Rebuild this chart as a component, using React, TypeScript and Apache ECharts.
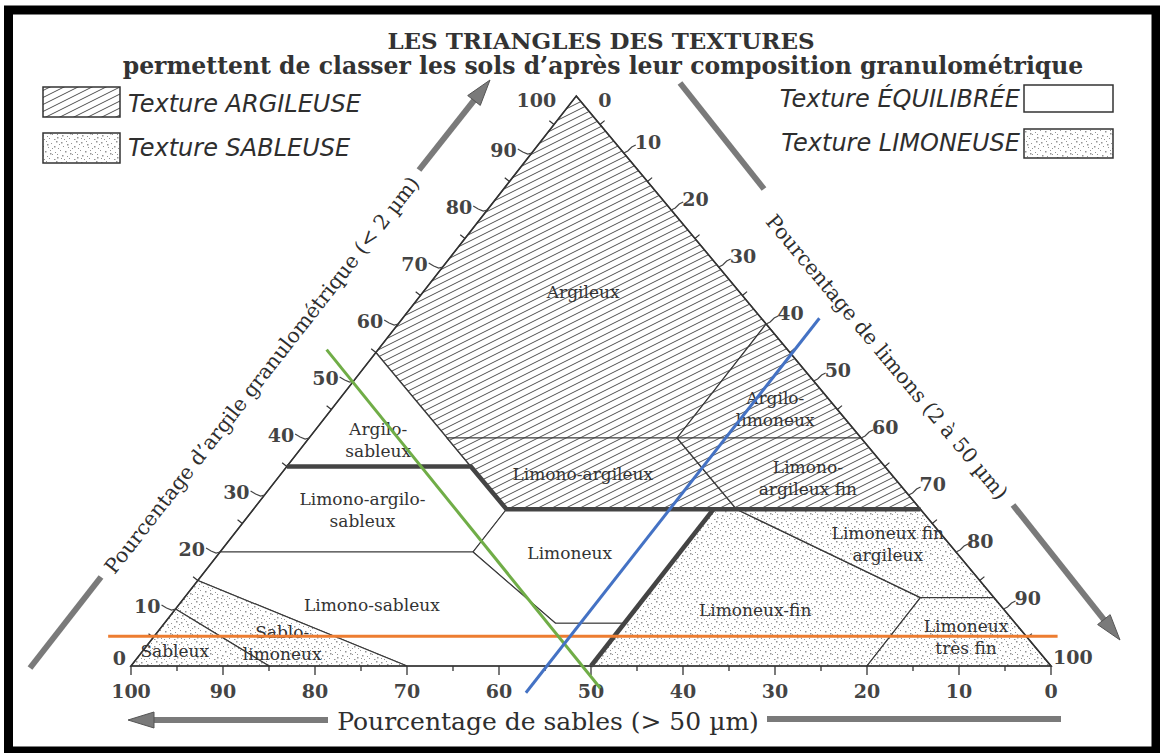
import React, { useEffect, useRef } from "react";
import * as echarts from "echarts";

// ---------- DATA (ternary points as [clay %, silt %]; sand = 100 - clay - silt) ----------
const CLAY_TICKS = [0, 5, 10, 15, 20, 25, 30, 35, 40, 45, 50, 55, 60, 65, 70, 75, 80, 85, 90, 95, 100];
const SILT_TICKS = [0, 5, 10, 15, 20, 25, 30, 35, 40, 45, 50, 55, 60, 65, 70, 75, 80, 85, 90, 95, 100];
const SAND_TICKS = [0, 5, 10, 15, 20, 25, 30, 35, 40, 45, 50, 55, 60, 65, 70, 75, 80, 85, 90, 95, 100];

const TRIANGLE = [[0, 0], [100, 0], [0, 100]];

const ARGILEUX = [[100, 0], [55, 0], [40, 15], [40, 40], [60, 40]];
const ARGILO_SABLEUX = [[55, 0], [35, 0], [35, 20]];
const ARGILO_LIMONEUX = [[60, 40], [40, 40], [40, 60]];
const LIMONO_ARGILEUX = [[40, 15], [40, 40], [27.5, 52.5], [27.5, 27.5], [35, 20]];
const LIMONO_ARGILEUX_FIN = [[40, 40], [40, 60], [27.5, 72.5], [27.5, 52.5]];
const LIMONO_ARGILO_SABLEUX = [[35, 0], [35, 20], [27.5, 27.5], [20, 27.5], [20, 0]];
const LIMONEUX = [[27.5, 27.5], [27.5, 50], [7.5, 50], [7.5, 42.5], [20, 27.5]];
const LIMONO_SABLEUX = [[20, 0], [20, 27.5], [7.5, 42.5], [7.5, 50], [0, 50], [0, 30], [15, 0]];
const LIMONEUX_FIN = [[27.5, 50], [27.5, 52.5], [12, 80], [0, 80], [0, 50]];
const LIMONEUX_FIN_ARGILEUX = [[27.5, 52.5], [27.5, 72.5], [12, 88], [12, 80]];
const LIMONEUX_TRES_FIN = [[12, 80], [12, 88], [0, 100], [0, 80]];
const SABLO_LIMONEUX = [[15, 0], [10, 0], [0, 15], [0, 30]];
const SABLEUX = [[10, 0], [0, 0], [0, 15]];

const REGION_POLYS = [
  ARGILEUX, ARGILO_SABLEUX, ARGILO_LIMONEUX, LIMONO_ARGILEUX, LIMONO_ARGILEUX_FIN,
  LIMONO_ARGILO_SABLEUX, LIMONEUX, LIMONO_SABLEUX, LIMONEUX_FIN, LIMONEUX_FIN_ARGILEUX,
  LIMONEUX_TRES_FIN, SABLO_LIMONEUX, SABLEUX,
];
const REGION_NAMES = [
  "Argileux", "Argilo-\nsableux", "Argilo-\nlimoneux", "Limono-argileux", "Limono-\nargileux fin",
  "Limono-argilo-\nsableux", "Limoneux", "Limono-sableux", "Limoneux-fin", "Limoneux fin\nargileux",
  "Limoneux\ntrès fin", "Sablo-\nlimoneux", "Sableux",
];
const REGION_TEXTURES = [
  "argileuse", "equilibree", "argileuse", "argileuse", "argileuse",
  "equilibree", "equilibree", "equilibree", "limoneuse", "limoneuse",
  "limoneuse", "sableuse", "sableuse",
];
const REGION_LABEL_POS = [
  [65.6, 17.4], [39.6, 7.7], [45.1, 48.2], [33.7, 32.8], [33.0, 57.6],
  [27.4, 11.9], [19.8, 38.1], [10.7, 21.0], [9.8, 63.1], [21.4, 71.9],
  [5.1, 88.3], [4.0, 14.5], [2.6, 3.5],
];

const THICK_BOUNDARIES = [
  [[35, 0], [35, 20], [27.5, 27.5], [27.5, 72.5]],
  [[27.5, 50], [0, 50]],
];

// hand-drawn reading lines laid over the diagram
const ORANGE_LINE = [[5.2, -5], [5.2, 98.2]];
const GREEN_LINE = [[55.5, -5.6], [-3.9, 52.9]];
const BLUE_LINE = [[-4.7, 45.2], [61, 45.3]];
const READING_LINES = [ORANGE_LINE, GREEN_LINE, BLUE_LINE];
const READING_COLORS = ["#ed7d31", "#70ad47", "#4472c4"];

// ---------- LAYOUT ----------
const APEX_SHIFT = 0.484;
const toXY = (clay: number, silt: number) => [silt + clay * APEX_SHIFT, clay];

const SERIF = "'DejaVu Serif', serif";
const TXT = "#2e2e2e";

function makeHatch() {
  const w = 14, h = 7;
  const cv = document.createElement("canvas");
  cv.width = w; cv.height = h;
  const ctx = cv.getContext("2d")!;
  ctx.fillStyle = "#ffffff";
  ctx.fillRect(0, 0, w, h);
  ctx.strokeStyle = "#4f4f4f";
  ctx.lineWidth = 1;
  ctx.beginPath();
  for (const k of [-1, 0, 1]) {
    ctx.moveTo(0, h + h * k);
    ctx.lineTo(w, h * k);
  }
  ctx.stroke();
  return { image: cv.toDataURL(), repeat: "repeat", imageWidth: w, imageHeight: h };
}

function makeDots() {
  const w = 20, h = 20;
  const cv = document.createElement("canvas");
  cv.width = w; cv.height = h;
  const ctx = cv.getContext("2d")!;
  ctx.fillStyle = "#ffffff";
  ctx.fillRect(0, 0, w, h);
  const pts = [
    [1, 2], [6, 1], [11, 3], [16, 1], [3, 6], [8, 7], [14, 6], [18, 8], [0, 10], [5, 11],
    [10, 10], [15, 12], [2, 15], [7, 16], [12, 14], [17, 17], [4, 19], [9, 18], [14, 19], [19, 4],
    [12, 8], [7, 4], [17, 14], [1, 18], [10, 13],
  ];
  ctx.fillStyle = "#949494";
  pts.forEach(([x, y], i) => {
    const s = i % 3 === 0 ? 1.5 : 1;
    ctx.fillRect(x, y, s, s);
  });
  return { image: cv.toDataURL(), repeat: "repeat", imageWidth: w, imageHeight: h };
}

function buildOption() {
  const hatch = makeHatch();
  const dots = makeDots();
  const fillFor = (t: string) => (t === "argileuse" ? hatch : t === "equilibree" ? "#ffffff" : dots);

  const arrowHead = (tx: number, ty: number, dx: number, dy: number, len = 26, half = 8) => {
    const bx = tx - dx * len, by = ty - dy * len;
    const nx = -dy, ny = dx;
    return {
      type: "polygon",
      shape: { points: [[tx, ty], [bx + nx * half, by + ny * half], [bx - nx * half, by - ny * half]] },
      style: { fill: "#7a7a7a", stroke: "#555", lineWidth: 1 },
    };
  };
  const bar = (x1: number, y1: number, x2: number, y2: number) => ({
    type: "line",
    shape: { x1, y1, x2, y2 },
    style: { stroke: "#7a7a7a", lineWidth: 6 },
  });

  const legendText = (x: number, y: number, text: string, align: string) => ({
    type: "text",
    x, y,
    style: { text, fill: TXT, fontFamily: "'DejaVu Sans', sans-serif", fontStyle: "italic", fontSize: 24, align, verticalAlign: "middle" },
  });
  const box = (x: number, y: number, w: number, h: number, fill: any) => ({
    type: "rect",
    shape: { x, y, width: w, height: h },
    style: { fill, stroke: "#333", lineWidth: 1.5 },
  });

  const Ld = [0.616, -0.788];
  const Rd = [0.62, 0.785];

  const graphic: any[] = [
    { type: "rect", shape: { x: 8.5, y: 10, width: 1147.5, height: 741 }, style: { fill: "none", stroke: "#000", lineWidth: 9 }, z: 100 },
    { type: "text", x: 601, y: 40, style: { text: "LES TRIANGLES DES TEXTURES", fill: "#333", fontFamily: SERIF, fontWeight: "bold", fontSize: 23, align: "center", verticalAlign: "middle" } },
    { type: "text", x: 603, y: 66, style: { text: "permettent de classer les sols d’après leur composition granulométrique", fill: "#333", fontFamily: SERIF, fontWeight: "bold", fontSize: 23.5, align: "center", verticalAlign: "middle" } },
    box(43, 87, 77, 30, hatch),
    box(43, 133, 77, 30, dots),
    box(1024, 85, 89, 27, "#fff"),
    box(1024, 129, 89, 29, dots),
    legendText(128, 104, "Texture ARGILEUSE", "left"),
    legendText(128, 148, "Texture SABLEUSE", "left"),
    legendText(1020, 99, "Texture ÉQUILIBRÉE", "right"),
    legendText(1020, 143, "Texture LIMONEUSE", "right"),
    // axis titles
    { type: "text", x: 262, y: 375, rotation: 0.908, style: { text: "Pourcentage d’argile granulométrique (< 2 µm)", fill: TXT, fontFamily: SERIF, fontSize: 20.5, align: "center", verticalAlign: "middle" } },
    { type: "text", x: 887, y: 357, rotation: -0.874, style: { text: "Pourcentage de limons (2 à 50 µm)", fill: TXT, fontFamily: SERIF, fontSize: 20.5, align: "center", verticalAlign: "middle" } },
    { type: "text", x: 548, y: 721, style: { text: "Pourcentage de sables (> 50 µm)", fill: TXT, fontFamily: SERIF, fontSize: 25, align: "center", verticalAlign: "middle" } },
    // arrows
    bar(30, 668, 101, 577),
    bar(419, 170, 490 - Ld[0] * 24, 80 - Ld[1] * 24),
    arrowHead(490, 80, Ld[0], Ld[1]),
    bar(680, 83, 764, 189),
    bar(1013, 505, 1120 - Rd[0] * 24, 640 - Rd[1] * 24),
    arrowHead(1120, 640, Rd[0], Rd[1]),
    bar(152, 720, 328, 720),
    arrowHead(128, 720, -1, 0),
    bar(767, 719, 1061, 719),
  ];

  const tickText = (x: number, y: number, text: string, align: string) => ({
    type: "text",
    x, y,
    style: { text, fill: "#444", fontFamily: SERIF, fontWeight: "bold", fontSize: 19, align, verticalAlign: "middle" },
  });

  return {
    animation: false,
    backgroundColor: "#ffffff",
    grid: { left: 131, top: 96, width: 920, height: 570 },
    xAxis: { type: "value", min: 0, max: 100, show: false },
    yAxis: { type: "value", min: 0, max: 100, show: false },
    graphic,
    series: [
      {
        type: "custom",
        z: 1,
        silent: true,
        clip: false,
        data: REGION_POLYS.map((_, i) => [i, 0]),
        renderItem: (params: any, api: any) => {
          const i = params.dataIndex;
          const pts = REGION_POLYS[i].map(([c, l]) => api.coord(toXY(c, l)));
          return {
            type: "polygon",
            shape: { points: pts },
            style: { fill: fillFor(REGION_TEXTURES[i]), stroke: "#3a3a3a", lineWidth: 1.2 },
          };
        },
      },
      {
        type: "custom",
        z: 2,
        silent: true,
        clip: false,
        data: [[0, 0]],
        renderItem: (params: any, api: any) => ({
          type: "polygon",
          shape: { points: TRIANGLE.map(([c, l]) => api.coord(toXY(c, l))) },
          style: { fill: "none", stroke: "#333", lineWidth: 1.6 },
        }),
      },
      {
        type: "custom",
        z: 3,
        silent: true,
        clip: false,
        data: THICK_BOUNDARIES.map((_, i) => [i, 0]),
        renderItem: (params: any, api: any) => ({
          type: "polyline",
          shape: { points: THICK_BOUNDARIES[params.dataIndex].map(([c, l]) => api.coord(toXY(c, l))) },
          style: { fill: "none", stroke: "#444", lineWidth: 4.5, lineJoin: "miter" },
        }),
      },
      // bottom axis (sand)
      {
        type: "custom",
        z: 4,
        silent: true,
        clip: false,
        data: SAND_TICKS.map((s) => [...toXY(0, 100 - s), s]),
        renderItem: (params: any, api: any) => {
          const p = api.coord([api.value(0), api.value(1)]);
          const s = api.value(2);
          const major = s % 10 === 0;
          const children: any[] = [
            { type: "line", shape: { x1: p[0], y1: p[1], x2: p[0], y2: p[1] + (major ? 9 : 5) }, style: { stroke: "#333", lineWidth: 1.3 } },
          ];
          if (major) children.push(tickText(p[0], p[1] + 25, String(s), "center"));
          return { type: "group", children };
        },
      },
      // left axis (clay)
      {
        type: "custom",
        z: 4,
        silent: true,
        clip: false,
        data: CLAY_TICKS.map((c) => [...toXY(c, 0), c]),
        renderItem: (params: any, api: any) => {
          const p = api.coord([api.value(0), api.value(1)]);
          const c = api.value(2);
          const a = api.coord(toXY(100, 0));
          const b = api.coord(toXY(0, 0));
          const len = Math.hypot(a[0] - b[0], a[1] - b[1]);
          const d = [(a[0] - b[0]) / len, (a[1] - b[1]) / len];
          const n = [d[1], -d[0]];
          if (c % 10 !== 0) {
            return { type: "line", shape: { x1: p[0], y1: p[1], x2: p[0] + n[0] * 6, y2: p[1] + n[1] * 6 }, style: { stroke: "#333", lineWidth: 1.2 } };
          }
          if (c === 100) return tickText(p[0] - 20, p[1] + 4, "100", "right");
          if (c === 0) return tickText(p[0] - 5, p[1] - 8, "0", "right");
          return {
            type: "group",
            children: [
              { type: "polyline", shape: { points: [[p[0] - 14, p[1] - 4], [p[0] - 9, p[1] - 1], [p[0] - 4, p[1] + 1], [p[0], p[1]]] }, style: { fill: "none", stroke: "#444", lineWidth: 1.2 } },
              tickText(p[0] - 15, p[1] - 3, String(c), "right"),
            ],
          };
        },
      },
      // right axis (silt)
      {
        type: "custom",
        z: 4,
        silent: true,
        clip: false,
        data: SILT_TICKS.map((l) => [...toXY(100 - l, l), l]),
        renderItem: (params: any, api: any) => {
          const p = api.coord([api.value(0), api.value(1)]);
          const l = api.value(2);
          const a = api.coord(toXY(100, 0));
          const b = api.coord(toXY(0, 100));
          const len = Math.hypot(b[0] - a[0], b[1] - a[1]);
          const d = [(b[0] - a[0]) / len, (b[1] - a[1]) / len];
          const n = [d[1], -d[0]];
          if (l % 10 !== 0) {
            return { type: "line", shape: { x1: p[0], y1: p[1], x2: p[0] + n[0] * 6, y2: p[1] + n[1] * 6 }, style: { stroke: "#333", lineWidth: 1.2 } };
          }
          if (l === 0) return tickText(p[0] + 22, p[1] + 4, "0", "left");
          if (l === 100) return tickText(p[0] + 2, p[1] - 9, "100", "left");
          return {
            type: "group",
            children: [
              { type: "polyline", shape: { points: [[p[0], p[1]], [p[0] + 4, p[1] - 2], [p[0] + 8, p[1] - 6], [p[0] + 12, p[1] - 8]] }, style: { fill: "none", stroke: "#444", lineWidth: 1.2 } },
              tickText(p[0] + 11, p[1] - 11, String(l), "left"),
            ],
          };
        },
      },
      // region labels
      {
        type: "custom",
        z: 6,
        silent: true,
        clip: false,
        data: REGION_LABEL_POS.map(([c, l], i) => [...toXY(c, l), i]),
        renderItem: (params: any, api: any) => {
          const p = api.coord([api.value(0), api.value(1)]);
          const i = api.value(2);
          return {
            type: "text",
            x: p[0],
            y: p[1],
            style: { text: REGION_NAMES[i], fill: "#333", fontFamily: SERIF, fontSize: 17, lineHeight: 22, align: "center", verticalAlign: "middle" },
          };
        },
      },
      // reading lines
      {
        type: "custom",
        z: 10,
        silent: true,
        clip: false,
        data: READING_LINES.map((_, i) => [i, 0]),
        renderItem: (params: any, api: any) => {
          const i = params.dataIndex;
          const [p1, p2] = READING_LINES[i].map(([c, l]) => api.coord(toXY(c, l)));
          return {
            type: "line",
            shape: { x1: p1[0], y1: p1[1], x2: p2[0], y2: p2[1] },
            style: { stroke: READING_COLORS[i], lineWidth: 3 },
          };
        },
      },
    ],
  };
}

export default function App() {
  const ref = useRef<HTMLDivElement>(null);
  useEffect(() => {
    document.body.style.margin = "0";
    const chart = echarts.init(ref.current!, null, { renderer: "svg" });
    chart.setOption(buildOption() as any);
    return () => chart.dispose();
  }, []);
  return <div ref={ref} style={{ width: 1160, height: 753, background: "#fff" }} />;
}
